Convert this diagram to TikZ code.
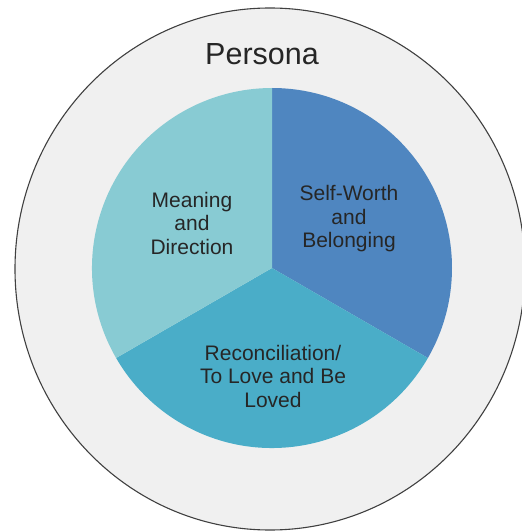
\documentclass[tikz,border=0pt]{standalone}
\usepackage{fontspec}
\setmainfont{Liberation Sans}
\usepackage{tikz}
\definecolor{ringgray}{HTML}{F0F0F0}
\definecolor{meaningteal}{HTML}{88CBD3}
\definecolor{worthblue}{HTML}{4F86C0}
\definecolor{reconaqua}{HTML}{4AADC8}
\tikzset{
    every node/.style={inner sep=0mm, align=center, text=black!85},
    biglabel/.style={font=\fontsize{30.5}{36}\selectfont},
    slicelabel/.style={font=\fontsize{21}{23.5}\selectfont}
}

\begin{document}
\begin{tikzpicture}[x=1pt, y=1pt]
    \useasboundingbox (0, 0) rectangle (522, 531);
    \clip (0, 0) rectangle (522, 531);

    \coordinate (oc) at (270, 262);
    \coordinate (pc) at (272, 263);

    \fill[ringgray] (oc) ellipse [x radius=255, y radius=261];
    \draw[black!75, line width=1.1pt] (oc) ellipse [x radius=255, y radius=261];

    \fill[worthblue] (pc) -- ++(90:180) arc [start angle=90, end angle=-30, radius=180] -- cycle;
    \fill[reconaqua] (pc) -- ++(-30:180) arc [start angle=-30, end angle=-150, radius=180] -- cycle;
    \fill[meaningteal] (pc) -- ++(210:180) arc [start angle=210, end angle=90, radius=180] -- cycle;

    \node (persona) [biglabel] at (262, 477) {Persona};
    \node (meaning) [slicelabel] at (192, 308) {Meaning\\and\\Direction};
    \node (worth) [slicelabel] at (349, 312) {Self-Worth\\and\\Belonging};
    \node (recon) [slicelabel] at (273, 155) {Reconciliation/\\To Love and Be\\Loved};
\end{tikzpicture}
\end{document}
